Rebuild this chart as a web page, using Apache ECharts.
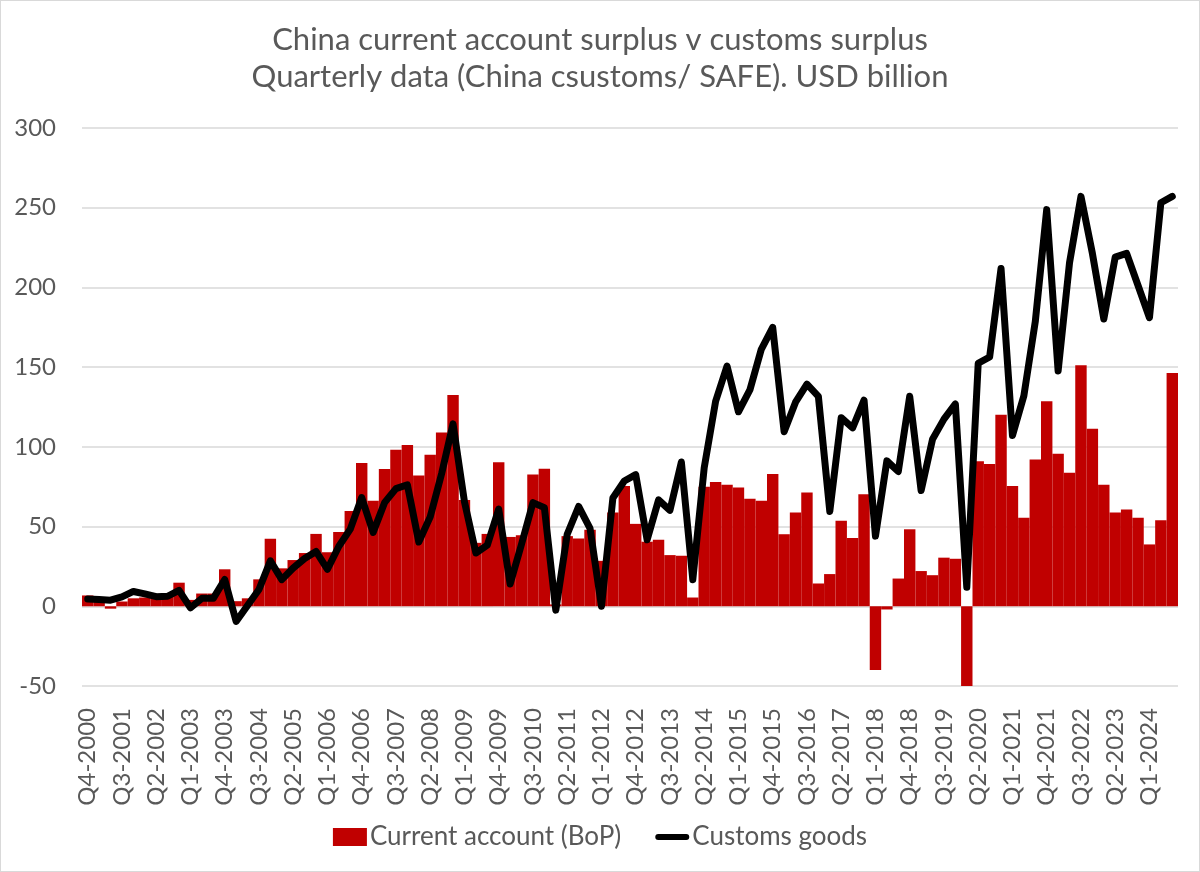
<!DOCTYPE html>
<html>
<head>
<meta charset="utf-8">
<script src="https://cdn.jsdelivr.net/npm/echarts@6/dist/echarts.min.js"></script>
<style>
    html, body { margin: 0; padding: 0; background: #fff; }
    #chart { width: 1200px; height: 872px; box-sizing: border-box; border: 1px solid #d9d9d9; }
</style>
</head>
<body>
<div id="chart"></div>
<script>
// quarters Q4-2000 .. Q3-2024
const quarters = [
    'Q4-2000',
    'Q1-2001', 'Q2-2001', 'Q3-2001', 'Q4-2001',
    'Q1-2002', 'Q2-2002', 'Q3-2002', 'Q4-2002',
    'Q1-2003', 'Q2-2003', 'Q3-2003', 'Q4-2003',
    'Q1-2004', 'Q2-2004', 'Q3-2004', 'Q4-2004',
    'Q1-2005', 'Q2-2005', 'Q3-2005', 'Q4-2005',
    'Q1-2006', 'Q2-2006', 'Q3-2006', 'Q4-2006',
    'Q1-2007', 'Q2-2007', 'Q3-2007', 'Q4-2007',
    'Q1-2008', 'Q2-2008', 'Q3-2008', 'Q4-2008',
    'Q1-2009', 'Q2-2009', 'Q3-2009', 'Q4-2009',
    'Q1-2010', 'Q2-2010', 'Q3-2010', 'Q4-2010',
    'Q1-2011', 'Q2-2011', 'Q3-2011', 'Q4-2011',
    'Q1-2012', 'Q2-2012', 'Q3-2012', 'Q4-2012',
    'Q1-2013', 'Q2-2013', 'Q3-2013', 'Q4-2013',
    'Q1-2014', 'Q2-2014', 'Q3-2014', 'Q4-2014',
    'Q1-2015', 'Q2-2015', 'Q3-2015', 'Q4-2015',
    'Q1-2016', 'Q2-2016', 'Q3-2016', 'Q4-2016',
    'Q1-2017', 'Q2-2017', 'Q3-2017', 'Q4-2017',
    'Q1-2018', 'Q2-2018', 'Q3-2018', 'Q4-2018',
    'Q1-2019', 'Q2-2019', 'Q3-2019', 'Q4-2019',
    'Q1-2020', 'Q2-2020', 'Q3-2020', 'Q4-2020',
    'Q1-2021', 'Q2-2021', 'Q3-2021', 'Q4-2021',
    'Q1-2022', 'Q2-2022', 'Q3-2022', 'Q4-2022',
    'Q1-2023', 'Q2-2023', 'Q3-2023', 'Q4-2023',
    'Q1-2024', 'Q2-2024', 'Q3-2024'
];

// current account (BoP), USD bn
const currentAccount = [
    6.8,
    5.5, -1.5, 3, 5,
    5.5, 6, 7, 14.8,
    4, 8, 8, 23.2,
    3.2, 5, 16.9, 42.3,
    23.8, 29, 33.4, 45.4,
    33.9, 46.6, 59.8, 89.8,
    66.2, 86.1, 98.2, 101.2,
    82, 95, 109, 132.6,
    66.6, 39.8, 45.4, 90.4,
    43.5, 44.5, 82.6, 86.2,
    1.2, 44, 42.5, 48,
    28.5, 58.8, 75.5, 51.7,
    40.5, 41.7, 32.1, 31.7,
    5.5, 75, 78, 76.2,
    74.5, 67.4, 66.2, 82.9,
    45.2, 58.8, 71.4, 14.3,
    20.2, 53.6, 42.9, 70.2,
    -40, -2, 17.4, 48.3,
    22.1, 19.5, 30.5, 29.8,
    -50.5, 91, 89.3, 120.2,
    75.5, 55.5, 92.1, 128.6,
    95.7, 83.8, 151.2, 111.4,
    76.2, 58.8, 60.7, 55.5,
    38.8, 54, 146.4
];

// customs goods surplus, USD bn
const customsGoods = [
    4.6,
    4.2, 3.8, 5.9, 9.3,
    7.8, 6, 6.3, 10,
    -1, 5, 5, 16.8,
    -9.5, 0.5, 10.5, 28.5,
    16.7, 24, 30, 34.4,
    23.2, 37.7, 48.4, 68.2,
    46.3, 65, 73.8, 76.2,
    40.3, 56.1, 83.2, 114.4,
    65.5, 33.4, 38.3, 61,
    14, 39, 65, 61.9,
    -2.4, 45.2, 62.6, 48.8,
    0, 67.9, 78.6, 82.6,
    41.7, 66.7, 60.2, 90.5,
    16.7, 86.9, 128.6, 150.7,
    122, 135.7, 161.2, 175,
    109.5, 128, 139.3, 131.7,
    59.5, 118.3, 111.9, 129.3,
    44, 91.2, 84.5, 131.7,
    72.6, 104.8, 117.4, 126.9,
    11.9, 152.4, 156.4, 211.9,
    107.1, 132.1, 178.6, 248.8,
    147.6, 215.5, 257.1, 221.4,
    180.2, 219, 221.4, 201.2,
    181, 253.1, 257.1
];

const textColor = '#595959';
const font = 'Lato';
// thick rounded line used as the legend icon of the line series
const lineIcon = 'path://M3.5,0 L36.5,0 A3.5,3.5 0 0 1 36.5,7 L3.5,7 A3.5,3.5 0 0 1 3.5,0 Z';

const chart = echarts.init(document.getElementById('chart'));

chart.setOption({
    animation: false,
    title: {
        text: 'China current account surplus v customs surplus\nQuarterly data (China csustoms/ SAFE). USD billion',
        left: 'center',
        top: 15,
        textStyle: {
            fontFamily: font,
            fontSize: 31,
            fontWeight: 'normal',
            color: textColor,
            lineHeight: 37
        }
    },
    legend: {
        bottom: 16,
        left: 'center',
        itemGap: 34,
        itemWidth: 34,
        itemHeight: 18,
        textStyle: {
            fontFamily: font,
            fontSize: 26,
            color: textColor,
            padding: [0, 0, 0, -2]
        },
        data: [
            { name: 'Current account (BoP)', icon: 'rect' },
            { name: 'Customs goods', icon: lineIcon }
        ]
    },
    grid: {
        left: 81,
        right: 21,
        top: 127,
        bottom: 185
    },
    xAxis: {
        type: 'category',
        data: quarters,
        axisLine: { show: false },
        axisTick: { show: false },
        axisLabel: {
            interval: 2,
            rotate: 90,
            margin: 22,
            fontFamily: font,
            fontSize: 24,
            color: textColor
        }
    },
    yAxis: {
        type: 'value',
        min: -50,
        max: 300,
        interval: 50,
        axisLine: { show: false },
        axisTick: { show: false },
        splitLine: { lineStyle: { color: '#d9d9d9', width: 1.5 } },
        axisLabel: {
            margin: 26,
            fontFamily: font,
            fontSize: 24,
            color: textColor
        }
    },
    series: [
        {
            name: 'Current account (BoP)',
            type: 'bar',
            data: currentAccount,
            barCategoryGap: '0%',
            itemStyle: { color: '#c00000' }
        },
        {
            name: 'Customs goods',
            type: 'line',
            data: customsGoods,
            symbol: 'none',
            lineStyle: { color: '#000', width: 7, join: 'round', cap: 'round' },
            itemStyle: { color: '#000' }
        }
    ]
});
</script>
</body>
</html>
